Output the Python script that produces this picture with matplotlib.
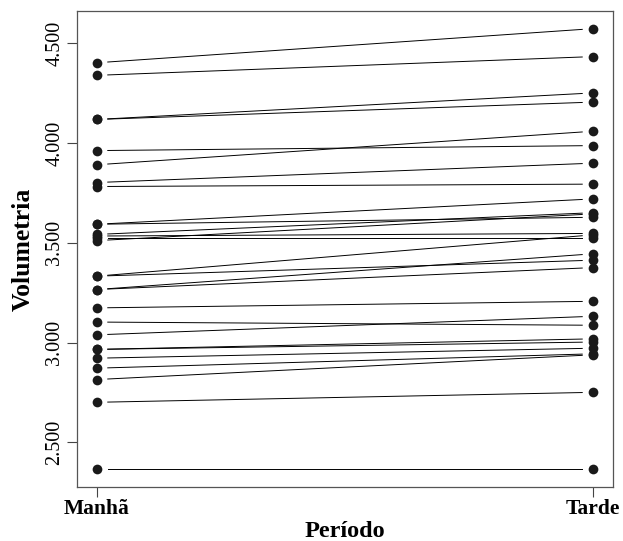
import matplotlib
matplotlib.use("Agg")
import matplotlib.pyplot as plt
from matplotlib.ticker import FuncFormatter
import numpy as np

# volumetria por animal, manha e tarde
periodos = ["Manhã", "Tarde"]
manha = [4402, 4339, 4118, 4118, 3962, 3891, 3802, 3782,
         3593, 3593, 3542, 3534, 3522, 3511, 3333, 3333, 3266, 3266,
         3174, 3103, 3039, 2966, 2966, 2922, 2872, 2815, 2701, 2365]
tarde = [4573, 4433, 4251, 4205, 3987, 4059, 3899, 3794,
         3720, 3628, 3651, 3547, 3522, 3645, 3540, 3413, 3445, 3376,
         3207, 3087, 3132, 3019, 3003, 2972, 2944, 2939, 2751, 2365]
yticks = [2500, 3000, 3500, 4000, 4500]

W, H = 623, 541
fig = plt.figure(figsize=(W / 100, H / 100), dpi=100)
ax = fig.add_axes([77 / W, 1 - 487 / H, (613 - 77) / W, (487 - 11) / H])

serif = "Liberation Serif"
x = np.array([1, 2])
gap = 0.022  # espaco entre ponto e linha (tipo "b" do R)

for a, b in zip(manha, tarde):
    ax.plot([x[0] + gap, x[1] - gap],
            [a + gap * (b - a), b - gap * (b - a)],
            color="black", lw=0.7)
ax.plot(np.full(len(manha), x[0]), manha, "o", color="#1a1a1a", ms=7, mec="none")
ax.plot(np.full(len(tarde), x[1]), tarde, "o", color="#1a1a1a", ms=7, mec="none")

allv = manha + tarde
lo, hi = min(allv), max(allv)
pad = 0.04 * (hi - lo)
ax.set_ylim(lo - pad, hi + pad)
ax.set_xlim(0.96, 2.04)

ax.set_yticks(yticks)
ax.yaxis.set_major_formatter(FuncFormatter(lambda v, p: "{:,.0f}".format(v).replace(",", ".")))
ax.set_xticks(x)
ax.set_xticklabels(periodos, fontfamily=serif, fontweight="bold", fontsize=15.5)
for t in ax.get_yticklabels():
    t.set_fontfamily(serif)
    t.set_fontsize(14.5)
    t.set_rotation(90)
    t.set_va("center")

ax.tick_params(axis="both", direction="out", length=7, width=0.8, color="#444444")
ax.tick_params(axis="y", pad=2)
ax.tick_params(axis="x", pad=2)
for s in ax.spines.values():
    s.set_color("#555555")
    s.set_linewidth(0.9)

ax.set_xlabel("Período", fontfamily=serif, fontweight="bold", fontsize=17.5, labelpad=1)
ax.set_ylabel("Volumetria", fontfamily=serif, fontweight="bold", fontsize=18.5, labelpad=8)

fig.savefig("out.png", dpi=100)
